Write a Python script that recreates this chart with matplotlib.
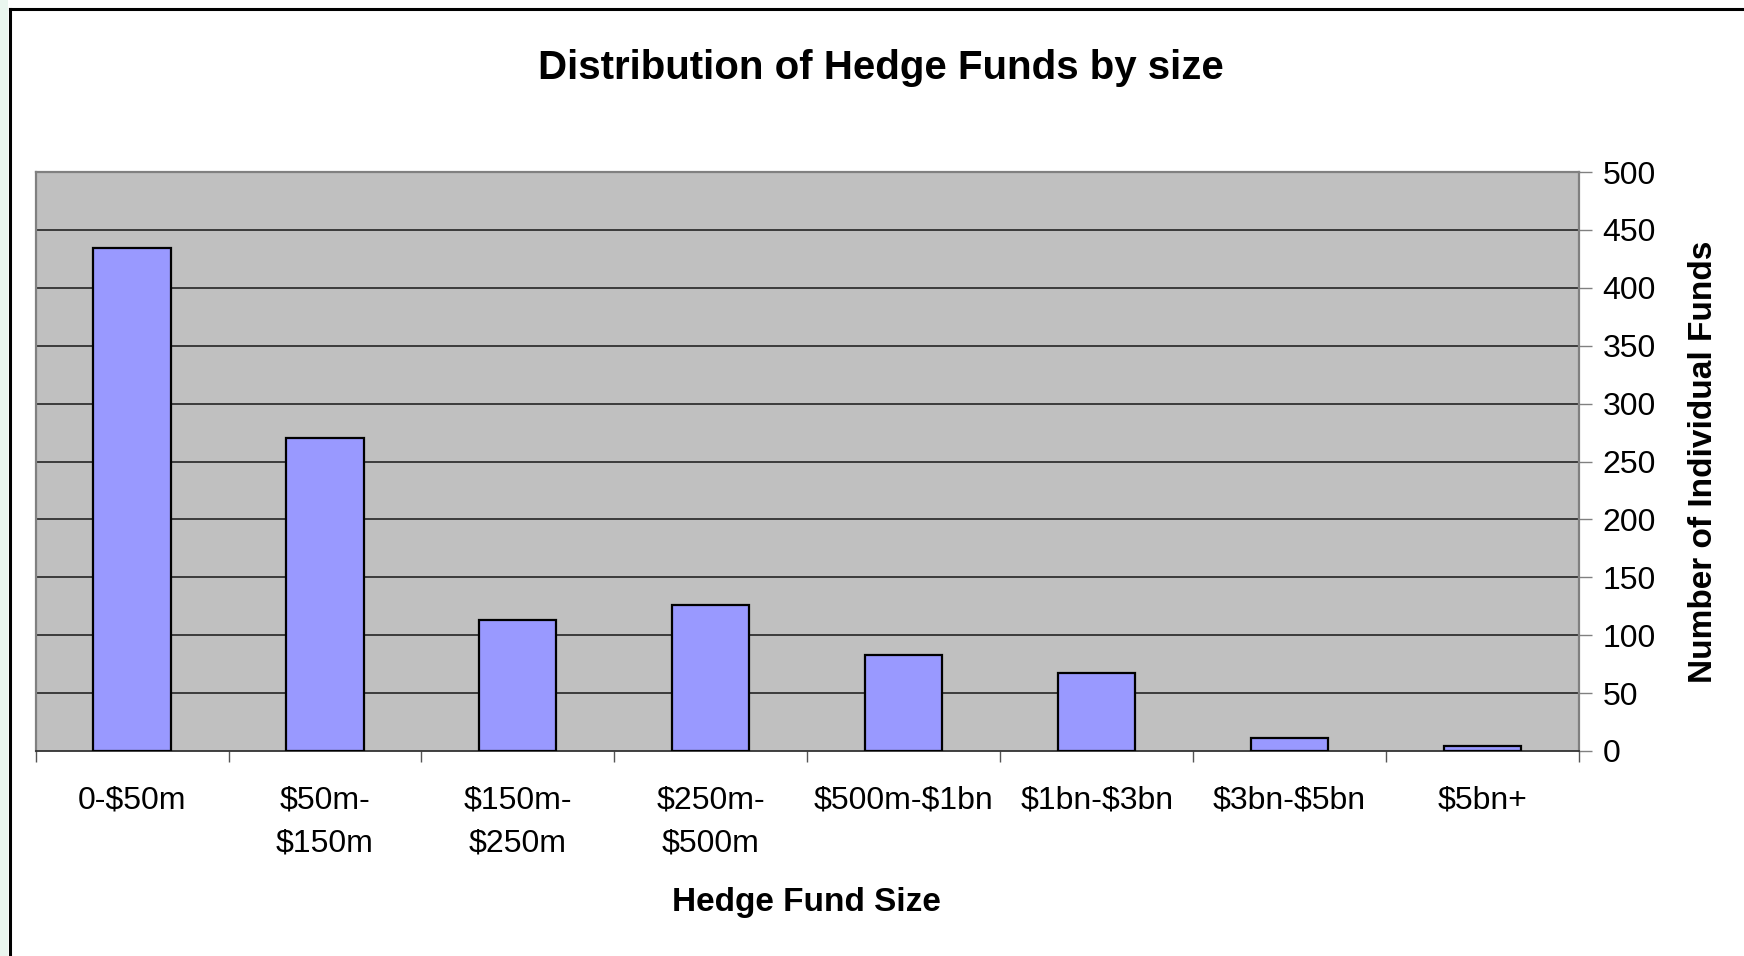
import numpy as np
import matplotlib
matplotlib.use("Agg")
import matplotlib.pyplot as plt
from matplotlib.lines import Line2D
from matplotlib.patches import Rectangle

plt.rcParams['font.family'] = ['Liberation Sans', 'DejaVu Sans']
plt.rcParams['text.parse_math'] = False

categories = ['0-$50m', '$50m-\n$150m', '$150m-\n$250m', '$250m-\n$500m',
              '$500m-$1bn', '$1bn-$3bn', '$3bn-$5bn', '$5bn+']
fund_counts = [434, 270, 113, 126, 83, 67, 11, 4]
y_ticks = [0, 50, 100, 150, 200, 250, 300, 350, 400, 450, 500]

W, H = 1744, 956
fig = plt.figure(figsize=(W / 100, H / 100), dpi=100)

# faint tint outside the frame, and the frame itself
fig.patches.append(Rectangle((0, 0), 8 / W, 1, transform=fig.transFigure,
                             facecolor='#eaf6ef', edgecolor='none', zorder=0))
fig.lines.append(Line2D([9.5 / W, 9.5 / W], [0, 1 - 8.5 / H], transform=fig.transFigure,
                        color='black', lw=2.2))
fig.lines.append(Line2D([9.5 / W, 1], [1 - 8.5 / H, 1 - 8.5 / H], transform=fig.transFigure,
                        color='black', lw=2.2))

left, right, top, bottom = 35.6, 1579, 172, 751
ax = fig.add_axes([left / W, 1 - bottom / H, (right - left) / W, (bottom - top) / H])
ax.set_facecolor('#c0c0c0')

x = np.arange(len(categories))
ax.bar(x, fund_counts, width=0.4, color='#9999ff', edgecolor='black', linewidth=1.6, zorder=3)

ax.set_xlim(-0.5, len(categories) - 0.5)
ax.set_ylim(0, 500)

ax.yaxis.tick_right()
ax.yaxis.set_label_position('right')
ax.set_yticks(y_ticks)
ax.set_yticklabels([str(v) for v in y_ticks])
ax.tick_params(axis='y', direction='out', length=9, width=1, color='#808080',
               labelsize=23, pad=8)
for v in y_ticks[1:-1]:
    ax.axhline(v, color='#303030', lw=1.3, zorder=1)

ax.set_xticks(x)
ax.set_xticklabels(categories, fontsize=23, linespacing=1.55)
ax.set_xticks(np.arange(len(categories) + 1) - 0.5, minor=True)
ax.tick_params(axis='x', which='major', length=0, pad=25)
ax.tick_params(axis='x', which='minor', direction='out', length=8, width=1, color='#555555')

for s in ['left', 'top', 'right']:
    ax.spines[s].set_color('#808080')
    ax.spines[s].set_linewidth(1.6)
ax.spines['bottom'].set_color('#333333')
ax.spines['bottom'].set_linewidth(1.3)

ax.set_ylabel('Number of Individual Funds', fontsize=24, fontweight='bold',
              rotation=90)
ax.yaxis.set_label_coords((1688 - left) / (right - left), 0.5)
fig.text(806 / W, 1 - 902 / H, 'Hedge Fund Size', fontsize=24, fontweight='bold',
         ha='center', va='center')
fig.text(881 / W, 1 - 68 / H, 'Distribution of Hedge Funds by size', fontsize=29,
         fontweight='bold', ha='center', va='center')

fig.savefig('out.png', dpi=100, facecolor='white')
